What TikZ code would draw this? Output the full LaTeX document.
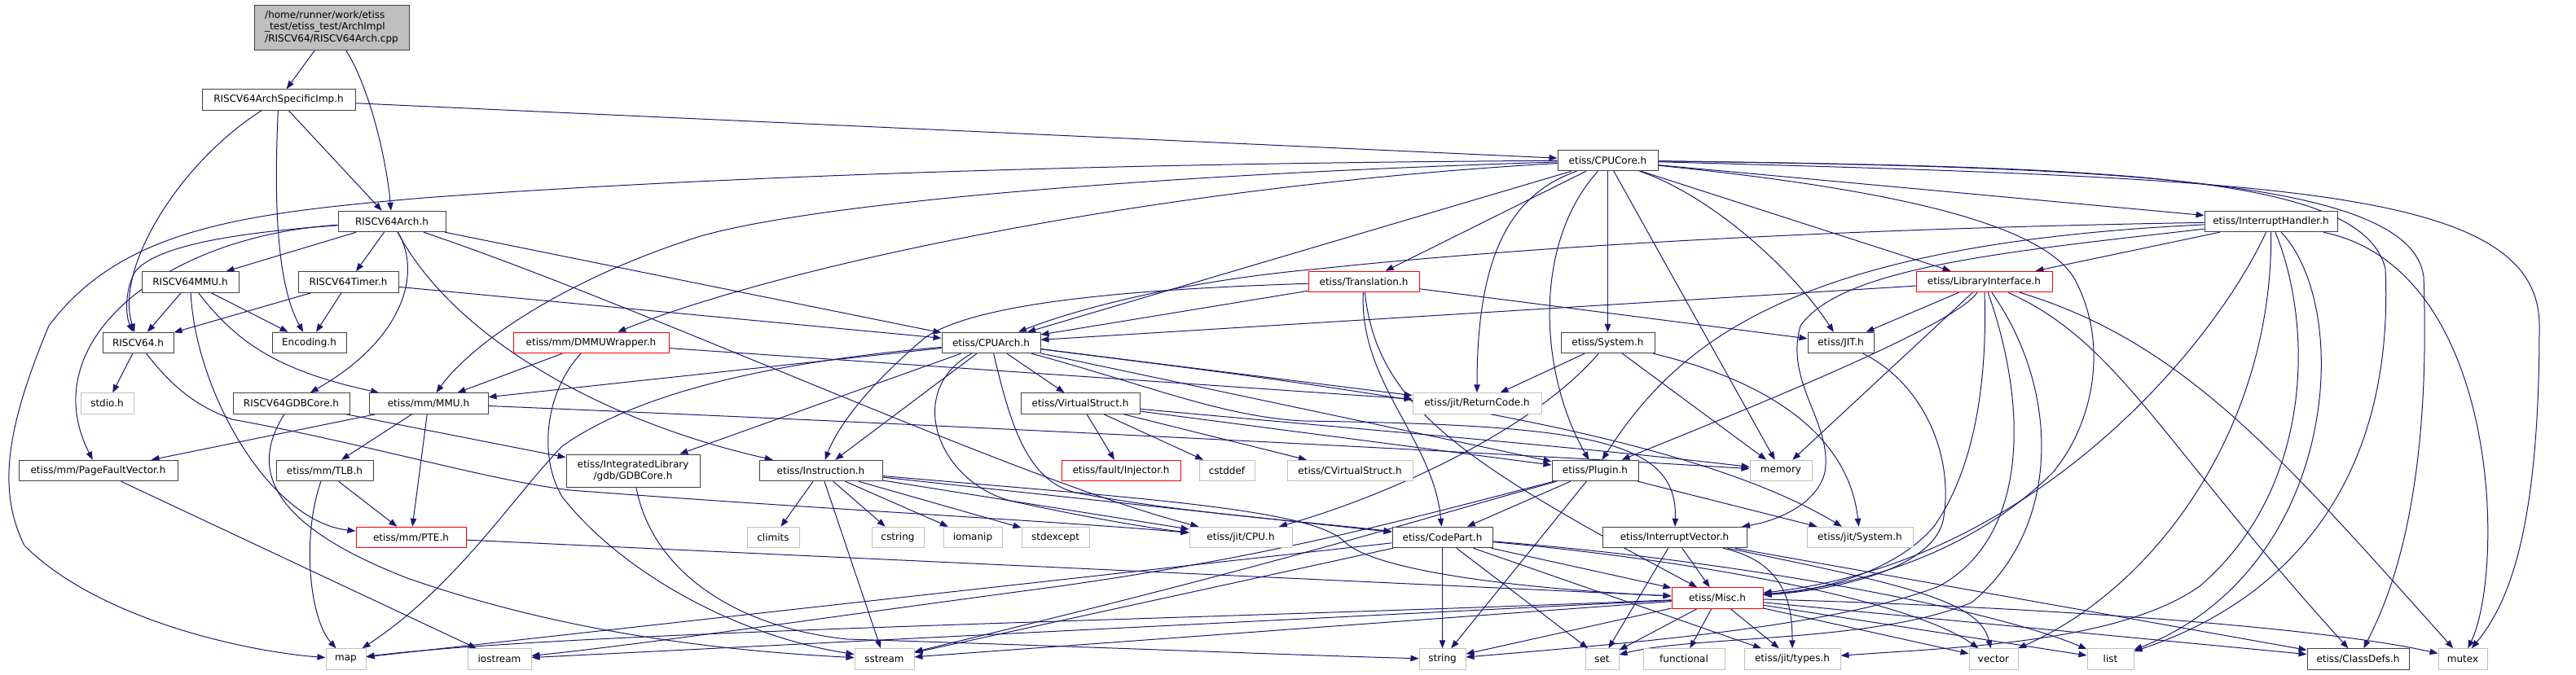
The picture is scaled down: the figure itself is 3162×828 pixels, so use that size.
\documentclass[tikz,border=0pt]{standalone}
\usepackage{fontspec}
\setmainfont{DejaVu Sans}
\usepackage{xcolor}
\usepackage{tikz}
\usetikzlibrary{arrows.meta,backgrounds}

\definecolor{edgeblue}{HTML}{191970}
\definecolor{sysgray}{HTML}{BFBFBF}
\definecolor{nodeline}{HTML}{404040}

\begin{document}
\begin{tikzpicture}[
    x=1pt, y=-1pt,
    filebox/.style={
      rectangle, draw=nodeline, line width=1pt, fill=white,
      minimum height=25.5pt, inner sep=1pt, font=\fontsize{12}{14.5}\selectfont
    },
    sysbox/.style={filebox, draw=sysgray},
    redbox/.style={filebox, draw=red},
    rootbox/.style={filebox, fill=sysgray, align=left, minimum height=55pt},
    incarr/.style={-{Triangle[length=10pt,width=7.5pt]}, line width=1pt, edgeblue}
  ]
    \useasboundingbox (0,0) rectangle (3162,828);

    % Top rows
    \node[rootbox, minimum width=190pt] (root) at (407,33.5) {/home/runner/work/etiss\\\_test/etiss\_test/ArchImpl\\/RISCV64/RISCV64Arch.cpp};
    \node[filebox, minimum width=188pt] (archspec) at (342,122.5) {RISCV64ArchSpecificImp.h};
    \node[filebox, minimum width=123pt] (cpucore) at (1973.5,197) {etiss/CPUCore.h};
    \node[filebox, minimum width=132pt] (arch) at (481,272) {RISCV64Arch.h};
    \node[filebox, minimum width=163pt] (inthandler) at (2787.5,272) {etiss/InterruptHandler.h};
    \node[filebox, minimum width=119pt] (mmu64) at (233.5,346.5) {RISCV64MMU.h};
    \node[filebox, minimum width=123pt] (timer) at (427.5,346.5) {RISCV64Timer.h};
    \node[redbox, minimum width=136pt] (translation) at (1674,346) {etiss/Translation.h};
    \node[redbox, minimum width=167pt] (libif) at (2435.5,346) {etiss/LibraryInterface.h};

    % Middle rows
    \node[filebox, minimum width=87pt] (riscv) at (169.5,421) {RISCV64.h};
    \node[filebox, minimum width=91pt] (encoding) at (379.5,421) {Encoding.h};
    \node[redbox, minimum width=191pt] (dmmu) at (725.5,421) {etiss/mm/DMMUWrapper.h};
    \node[filebox, minimum width=121pt] (cpuarch) at (1216.5,421) {etiss/CPUArch.h};
    \node[filebox, minimum width=115pt] (system) at (1973.5,421) {etiss/System.h};
    \node[filebox, minimum width=81pt] (jit) at (2259.5,421) {etiss/JIT.h};
    \node[sysbox, minimum width=65pt] (stdio) at (131.5,495.5) {stdio.h};
    \node[filebox, minimum width=143pt] (gdbcore64) at (357.5,495.5) {RISCV64GDBCore.h};
    \node[filebox, minimum width=146pt] (mmu) at (526,495.5) {etiss/mm/MMU.h};
    \node[filebox, minimum width=146pt] (virtualstruct) at (1326,495.5) {etiss/VirtualStruct.h};
    \node[sysbox, minimum width=158pt] (returncode) at (1813,495.5) {etiss/jit/ReturnCode.h};
    \node[filebox, minimum width=195pt] (pagefault) at (120.5,578) {etiss/mm/PageFaultVector.h};
    \node[filebox, minimum width=119pt] (tlb) at (398.5,578) {etiss/mm/TLB.h};
    \node[filebox, minimum width=164pt, minimum height=40pt, align=center] (gdbcore) at (777,578) {etiss/IntegratedLibrary\\/gdb/GDBCore.h};
    \node[filebox, minimum width=151pt] (instruction) at (1007.5,578) {etiss/Instruction.h};
    \node[redbox, minimum width=146pt] (injector) at (1376,578) {etiss/fault/Injector.h};
    \node[sysbox, minimum width=68pt] (cstddef) at (1506,578) {cstddef};
    \node[sysbox, minimum width=154pt] (cvirtualstruct) at (1657,578) {etiss/CVirtualStruct.h};
    \node[filebox, minimum width=106pt] (plugin) at (1958,578) {etiss/Plugin.h};
    \node[sysbox, minimum width=76pt] (memory) at (2186,578) {memory};
    \node[redbox, minimum width=135pt] (pte) at (504.5,660) {etiss/mm/PTE.h};
    \node[sysbox, minimum width=64pt] (climits) at (949,660) {climits};
    \node[sysbox, minimum width=64pt] (cstring) at (1102,660) {cstring};
    \node[sysbox, minimum width=72pt] (iomanip) at (1194,660) {iomanip};
    \node[sysbox, minimum width=83pt] (stdexcept) at (1295.5,660) {stdexcept};
    \node[sysbox, minimum width=126pt] (jitcpu) at (1523,660) {etiss/jit/CPU.h};
    \node[filebox, minimum width=123pt] (codepart) at (1770.5,660) {etiss/CodePart.h};
    \node[filebox, minimum width=177pt] (intvector) at (2055.5,660) {etiss/InterruptVector.h};
    \node[sysbox, minimum width=130pt] (jitsystem) at (2283,660) {etiss/jit/System.h};
    \node[redbox, minimum width=112pt] (misc) at (2108,734.5) {etiss/Misc.h};

    % Bottom row
    \node[sysbox, minimum width=49pt] (map) at (424.5,809.5) {map};
    \node[sysbox, minimum width=78pt] (iostream) at (613,809.5) {iostream};
    \node[sysbox, minimum width=73pt] (sstream) at (1085.5,809.5) {sstream};
    \node[sysbox, minimum width=57pt] (string) at (1770.5,809.5) {string};
    \node[sysbox, minimum width=41pt] (set) at (1966.5,809.5) {set};
    \node[sysbox, minimum width=100pt] (functional) at (2067,809.5) {functional};
    \node[sysbox, minimum width=118pt] (types) at (2200,809.5) {etiss/jit/types.h};
    \node[sysbox, minimum width=60pt] (vector) at (2447,809.5) {vector};
    \node[sysbox, minimum width=57pt] (list) at (2590.5,809.5) {list};
    \node[filebox, minimum width=125pt] (classdefs) at (2894.5,809.5) {etiss/ClassDefs.h};
    \node[sysbox, minimum width=60pt] (mutex) at (3023,809.5) {mutex};

    \begin{scope}[on background layer]
    % root file
    \draw[incarr] (root) -- (archspec);
    \draw[incarr] (root) .. controls (455,110) and (475,200) .. (arch);

    % RISCV64ArchSpecificImp.h
    \draw[incarr] (archspec) -- (arch);
    \draw[incarr] (archspec) .. controls (220,200) and (140,330) .. (riscv);
    \draw[incarr] (archspec) .. controls (336,250) and (340,350) .. (encoding);
    \draw[incarr] (archspec) -- (cpucore);

    % RISCV64Arch.h
    \draw[incarr] (arch) -- (mmu64);
    \draw[incarr] (arch) -- (timer);
    \draw[incarr] (arch) .. controls (300,285) and (190,300) .. (165,335) .. controls (152,360) and (155,390) .. (riscv);
    \draw[incarr] (arch) .. controls (200,290) and (40,420) .. (pagefault);
    \draw[incarr] (arch) -- (cpuarch);
    \draw[incarr] (arch) .. controls (520,340) and (490,420) .. (gdbcore64);
    \draw[incarr] (arch) .. controls (560,420) and (750,520) .. (instruction);
    \draw[incarr] (arch) .. controls (800,380) and (1250,590) .. (jitcpu);

    % RISCV64MMU.h, RISCV64Timer.h, RISCV64.h
    \draw[incarr] (mmu64) -- (riscv);
    \draw[incarr] (mmu64) -- (encoding);
    \draw[incarr] (mmu64) .. controls (290,420) and (340,455) .. (mmu);
    \draw[incarr] (mmu64) .. controls (240,480) and (330,640) .. (pte);
    \draw[incarr] (timer) -- (riscv);
    \draw[incarr] (timer) -- (encoding);
    \draw[incarr] (timer) -- (cpuarch);
    \draw[incarr] (riscv) -- (stdio);
    \draw[incarr] (riscv) .. controls (215,480) and (245,500) .. (285,515) .. controls (450,545) and (600,590) .. (700,602) .. controls (1000,625) and (1300,640) .. (jitcpu);

    % RISCV64GDBCore.h
    \draw[incarr] (gdbcore64) -- (gdbcore);
    \draw[incarr] (gdbcore64) .. controls (310,570) and (320,640) .. (500,710) .. controls (700,780) and (900,800) .. (sstream);

    % memory management
    \draw[incarr] (mmu) -- (pagefault);
    \draw[incarr] (mmu) -- (tlb);
    \draw[incarr] (mmu) -- (pte);
    \draw[incarr] (mmu) .. controls (1000,515) and (1700,548) .. (memory);
    \draw[incarr] (pagefault) -- (iostream);
    \draw[incarr] (tlb) .. controls (370,660) and (380,760) .. (map);
    \draw[incarr] (tlb) -- (pte);
    \draw[incarr] (pte) -- (misc);
    \draw[incarr] (dmmu) -- (mmu);
    \draw[incarr] (dmmu) -- (returncode);
    \draw[incarr] (dmmu) .. controls (670,480) and (660,560) .. (690,610) .. controls (760,700) and (900,780) .. (sstream);
    \draw[incarr] (gdbcore) .. controls (800,700) and (900,770) .. (1040,785) .. controls (1300,793) and (1600,805) .. (string);

    % etiss/CPUCore.h
    \draw[incarr] (cpucore) .. controls (1400,200) and (900,215) .. (520,243) .. controls (300,262) and (150,280) .. (60,400) .. controls (10,520) and (-5,600) .. (30,670) .. controls (120,760) and (300,800) .. (map);
    \draw[incarr] (cpucore) .. controls (1400,215) and (1000,250) .. (860,290) .. controls (700,340) and (580,420) .. (mmu);
    \draw[incarr] (cpucore) .. controls (1400,230) and (950,330) .. (dmmu);
    \draw[incarr] (cpucore) -- (cpuarch);
    \draw[incarr] (cpucore) -- (translation);
    \draw[incarr] (cpucore) .. controls (1850,240) and (1813,320) .. (returncode);
    \draw[incarr] (cpucore) .. controls (1880,300) and (1890,460) .. (plugin);
    \draw[incarr] (cpucore) -- (system);
    \draw[incarr] (cpucore) -- (memory);
    \draw[incarr] (cpucore) .. controls (2100,240) and (2200,330) .. (jit);
    \draw[incarr] (cpucore) -- (libif);
    \draw[incarr] (cpucore) -- (inthandler);
    \draw[incarr] (cpucore) .. controls (2300,230) and (2500,270) .. (2545,340) .. controls (2590,420) and (2570,520) .. (2520,580) .. controls (2420,680) and (2280,720) .. (misc);
    \draw[incarr] (cpucore) .. controls (2600,205) and (2900,215) .. (2928,330) .. controls (2940,600) and (2800,740) .. (list);
    \draw[incarr] (cpucore) .. controls (2600,205) and (2960,220) .. (2975,340) .. controls (2985,620) and (2930,740) .. (classdefs);
    \draw[incarr] (cpucore) .. controls (2800,220) and (3117,230) .. (3117,400) .. controls (3117,650) and (3080,740) .. (mutex);

    % etiss/InterruptHandler.h
    \draw[incarr] (inthandler) .. controls (2300,280) and (1900,300) .. (1620,330) .. controls (1450,345) and (1320,380) .. (cpuarch);
    \draw[incarr] (inthandler) -- (libif);
    \draw[incarr] (inthandler) .. controls (2200,300) and (2060,420) .. (plugin);
    \draw[incarr] (inthandler) .. controls (2450,310) and (2260,330) .. (2210,400) .. controls (2190,470) and (2250,520) .. (2240,580) .. controls (2230,620) and (2180,640) .. (intvector);
    \draw[incarr] (inthandler) .. controls (2720,420) and (2500,690) .. (misc);
    \draw[incarr] (inthandler) .. controls (2790,520) and (2650,720) .. (vector);
    \draw[incarr] (inthandler) .. controls (2840,400) and (2840,600) .. (2700,720) .. controls (2600,790) and (2400,795) .. (types);
    \draw[incarr] (inthandler) .. controls (2890,380) and (2870,700) .. (list);
    \draw[incarr] (inthandler) .. controls (3070,330) and (3075,700) .. (mutex);

    % etiss/LibraryInterface.h
    \draw[incarr] (libif) -- (cpuarch);
    \draw[incarr] (libif) -- (jit);
    \draw[incarr] (libif) .. controls (2400,400) and (2150,500) .. (plugin);
    \draw[incarr] (libif) -- (memory);
    \draw[incarr] (libif) .. controls (2440,480) and (2420,580) .. (2375,645) .. controls (2330,700) and (2240,725) .. (misc);
    \draw[incarr] (libif) .. controls (2490,500) and (2490,660) .. (2380,720) .. controls (2250,770) and (2000,790) .. (string);
    \draw[incarr] (libif) .. controls (2530,480) and (2530,650) .. (2420,740) .. controls (2300,790) and (2080,780) .. (set);
    \draw[incarr] (libif) .. controls (2600,420) and (2650,540) .. (classdefs);
    \draw[incarr] (libif) .. controls (2680,420) and (2800,560) .. (mutex);

    % etiss/JIT.h, etiss/Translation.h, etiss/System.h
    \draw[incarr] (jit) .. controls (2360,470) and (2400,560) .. (2385,640) .. controls (2370,700) and (2250,725) .. (misc);
    \draw[incarr] (translation) -- (cpuarch);
    \draw[incarr] (translation) -- (jit);
    \draw[incarr] (translation) .. controls (1400,355) and (1200,370) .. (1135,415) .. controls (1070,470) and (1030,520) .. (instruction);
    \draw[incarr] (translation) .. controls (1668,470) and (1760,540) .. (codepart);
    \draw[incarr] (translation) .. controls (1690,500) and (1800,570) .. (misc);
    \draw[incarr] (system) -- (returncode);
    \draw[incarr] (system) .. controls (1880,530) and (1700,610) .. (jitcpu);
    \draw[incarr] (system) -- (memory);
    \draw[incarr] (system) .. controls (2180,470) and (2270,540) .. (jitsystem);

    % etiss/CPUArch.h
    \draw[incarr] (cpuarch) -- (mmu);
    \draw[incarr] (cpuarch) .. controls (1000,440) and (800,470) .. (690,548) .. controls (630,610) and (560,720) .. (map);
    \draw[incarr] (cpuarch) -- (gdbcore);
    \draw[incarr] (cpuarch) -- (instruction);
    \draw[incarr] (cpuarch) -- (virtualstruct);
    \draw[incarr] (cpuarch) -- (returncode);
    \draw[incarr] (cpuarch) -- (plugin);
    \draw[incarr] (cpuarch) .. controls (1600,470) and (2050,520) .. (jitsystem);
    \draw[incarr] (cpuarch) .. controls (1400,470) and (1500,512) .. (1600,517) .. controls (1950,522) and (2060,540) .. (intvector);
    \draw[incarr] (cpuarch) .. controls (1110,480) and (1150,590) .. (1240,615) .. controls (1330,635) and (1420,650) .. (jitcpu);
    \draw[incarr] (cpuarch) .. controls (1240,520) and (1260,590) .. (1320,605) .. controls (1450,630) and (1600,640) .. (codepart);

    % etiss/VirtualStruct.h
    \draw[incarr] (virtualstruct) -- (injector);
    \draw[incarr] (virtualstruct) -- (cstddef);
    \draw[incarr] (virtualstruct) -- (cvirtualstruct);
    \draw[incarr] (virtualstruct) -- (plugin);
    \draw[incarr] (virtualstruct) .. controls (1700,530) and (1950,550) .. (memory);

    % etiss/Instruction.h
    \draw[incarr] (instruction) -- (climits);
    \draw[incarr] (instruction) -- (cstring);
    \draw[incarr] (instruction) -- (iomanip);
    \draw[incarr] (instruction) -- (stdexcept);
    \draw[incarr] (instruction) -- (jitcpu);
    \draw[incarr] (instruction) -- (sstream);
    \draw[incarr] (instruction) -- (codepart);
    \draw[incarr] (instruction) .. controls (1400,612) and (1610,625) .. (1650,665) .. controls (1690,705) and (1900,725) .. (misc);

    % etiss/Plugin.h
    \draw[incarr] (plugin) -- (codepart);
    \draw[incarr] (plugin) -- (string);
    \draw[incarr] (plugin) -- (jitsystem);
    \draw[incarr] (plugin) .. controls (1700,645) and (1560,683) .. (1300,720) .. controls (1000,760) and (800,790) .. (iostream);
    \draw[incarr] (plugin) .. controls (1700,650) and (1580,690) .. (sstream);

    % etiss/CodePart.h
    \draw[incarr] (codepart) -- (string);
    \draw[incarr] (codepart) -- (set);
    \draw[incarr] (codepart) -- (misc);
    \draw[incarr] (codepart) -- (map);
    \draw[incarr] (codepart) -- (sstream);
    \draw[incarr] (codepart) -- (types);
    \draw[incarr] (codepart) .. controls (2100,690) and (2350,740) .. (vector);
    \draw[incarr] (codepart) .. controls (2150,690) and (2450,750) .. (list);

    % etiss/InterruptVector.h
    \draw[incarr] (intvector) -- (misc);
    \draw[incarr] (intvector) -- (set);
    \draw[incarr] (intvector) .. controls (2190,690) and (2200,740) .. (types);
    \draw[incarr] (intvector) .. controls (2350,720) and (2430,740) .. (vector);
    \draw[incarr] (intvector) -- (classdefs);

    % etiss/Misc.h
    \draw[incarr] (misc) .. controls (1500,760) and (700,775) .. (map);
    \draw[incarr] (misc) -- (iostream);
    \draw[incarr] (misc) -- (sstream);
    \draw[incarr] (misc) -- (string);
    \draw[incarr] (misc) -- (set);
    \draw[incarr] (misc) -- (functional);
    \draw[incarr] (misc) -- (types);
    \draw[incarr] (misc) -- (vector);
    \draw[incarr] (misc) -- (list);
    \draw[incarr] (misc) -- (classdefs);
    \draw[incarr] (misc) .. controls (2500,745) and (2850,770) .. (mutex);
    \end{scope}

  \end{tikzpicture}
\end{document}
